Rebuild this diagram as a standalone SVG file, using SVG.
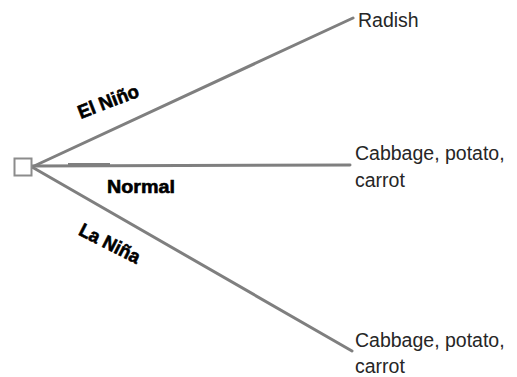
<svg xmlns="http://www.w3.org/2000/svg" width="517" height="377" viewBox="0 0 517 377">
<style>
.edge{stroke:#7f7f7f;stroke-width:3;fill:none;stroke-linecap:round}
.lbl{font-family:"Liberation Sans",Arial,sans-serif;font-weight:bold;font-size:19px;fill:#000;stroke:#000;stroke-width:0.6}
.out{font-family:"Liberation Sans",Arial,sans-serif;font-size:19.5px;fill:#262626}
</style>
<rect width="517" height="377" fill="#fff"/>
<g id="connectors">
<line class="edge" x1="32" y1="167" x2="353" y2="18"/>
<line class="edge" x1="32" y1="166" x2="350" y2="165"/>
<line class="edge" x1="32" y1="167" x2="352" y2="351"/>
<line x1="68" y1="165" x2="110" y2="165" stroke="#7f7f7f" stroke-width="4"/>
</g>
<g id="decision">
<rect x="14.5" y="158.5" width="17" height="17" fill="#fff" stroke="#8c8c8c" stroke-width="2"/>
</g>
<g id="label-elnino">
<text class="lbl" transform="translate(108,101) rotate(-21)" text-anchor="middle" y="7" textLength="64" lengthAdjust="spacingAndGlyphs">El Niño</text>
</g>
<g id="label-normal">
<text class="lbl" x="107" y="193" textLength="68" lengthAdjust="spacingAndGlyphs">Normal</text>
</g>
<g id="label-lanina">
<text class="lbl" transform="translate(110,243) rotate(27)" text-anchor="middle" y="7" textLength="66" lengthAdjust="spacingAndGlyphs">La Niña</text>
</g>
<g id="out-radish">
<text class="out" x="358" y="27">Radish</text>
</g>
<g id="out-normal">
<text class="out" x="355" y="160">Cabbage, potato,</text>
<text class="out" x="355" y="187">carrot</text>
</g>
<g id="out-lanina">
<text class="out" x="355" y="347">Cabbage, potato,</text>
<text class="out" x="355" y="373">carrot</text>
</g>
</svg>
